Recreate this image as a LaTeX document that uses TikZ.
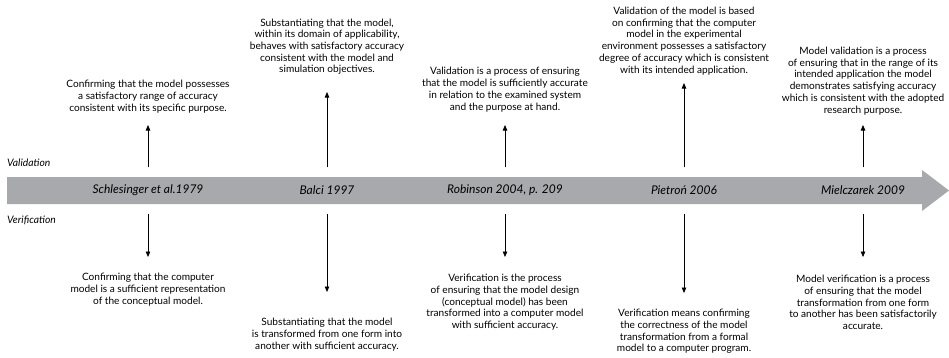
\documentclass[tikz,border=0pt]{standalone}
\usepackage{fontspec}
\setmainfont{Lato}
\usetikzlibrary{arrows.meta}
\definecolor{bandgray}{HTML}{A7A9AC}
\begin{document}
\begin{tikzpicture}[x=1pt,y=-1pt,
  lab/.style={font=\itshape\fontsize{12}{14}\selectfont, minimum height=46pt, inner sep=0pt},
  txt/.style={font=\fontsize{10.1}{11.7}\selectfont, align=center, inner sep=0pt},
  side/.style={font=\itshape\fontsize{10.3}{12}\selectfont, inner sep=0pt},
  conn/.style={line width=0.7pt, -{Triangle[width=4.5pt,length=5.5pt]}}]
\useasboundingbox (0,0) rectangle (949,357);
\fill[bandgray] (7,177) -- (922,177) -- (922,170) -- (949,190.5) -- (922,211) -- (922,204) -- (7,204) -- cycle;

\node[side, anchor=base west] (val) at (7,166) {Validation};
\node[side, anchor=base west] (ver) at (7,223) {Verification};

\node[lab] (l1) at (148,190.5) {Schlesinger et al.1979};
\node[lab] (l2) at (327,190.5) {Balci 1997};
\node[lab] (l3) at (505,190.5) {Robinson 2004, p. 209};
\node[lab] (l4) at (684,190.5) {Pietroń 2006};
\node[lab] (l5) at (863,190.5) {Mielczarek 2009};

% validation texts
\node[txt, anchor=south] (v1) at (148,113) {Confirming that the model possesses\\a satisfactory range of accuracy\\consistent with its specific purpose.};
\node[txt, anchor=south] (v2) at (327,75) {Substantiating that the model,\\within its domain of applicability,\\behaves with satisfactory accuracy\\consistent with the model and\\simulation objectives.};
\node[txt, anchor=south] (v3) at (505,112) {Validation is a process of ensuring\\that the model is sufficiently accurate\\in relation to the examined system\\and the purpose at hand.};
\node[txt, anchor=south] (v4) at (684,75) {Validation of the model is based\\on confirming that the computer\\model in the experimental\\environment possesses a satisfactory\\degree of accuracy which is consistent\\with its intended application.};
\node[txt, anchor=south] (v5) at (863,115) {Model validation is a process\\of ensuring that in the range of its\\intended application the model\\demonstrates satisfying accuracy\\which is consistent with the adopted\\research purpose.};

% verification texts
\node[txt, anchor=north] (r1) at (148,273) {Confirming that the computer\\model is a sufficient representation\\of the conceptual model.};
\node[txt, anchor=north] (r2) at (327,318) {Substantiating that the model\\is transformed from one form into\\another with sufficient accuracy.};
\node[txt, anchor=north] (r3) at (505,274) {Verification is the process\\of ensuring that the model design\\(conceptual model) has been\\transformed into a computer model\\with sufficient accuracy.};
\node[txt, anchor=north] (r4) at (684,309) {Verification means confirming\\the correctness of the model\\transformation from a formal\\model to a computer program.};
\node[txt, anchor=north] (r5) at (863,275) {Model verification is a process\\of ensuring that the model\\transformation from one form\\to another has been satisfactorily\\accurate.};

\draw[conn, shorten >=12pt] (l1.north) -- (v1.south);
\draw[conn, shorten >=17pt] (l2.north) -- (v2.south);
\draw[conn, shorten >=13pt] (l3.north) -- (v3.south);
\draw[conn, shorten >=8pt] (l4.north) -- (v4.south);
\draw[conn, shorten >=10pt] (l5.north) -- (v5.south);

\draw[conn, shorten >=16pt] (l1.south) -- (r1.north);
\draw[conn, shorten >=26pt] (l2.south) -- (r2.north);
\draw[conn, shorten >=17pt] (l3.south) -- (r3.north);
\draw[conn, shorten >=16pt] (l4.south) -- (r4.north);
\draw[conn, shorten >=18pt] (l5.south) -- (r5.north);
\end{tikzpicture}
\end{document}
